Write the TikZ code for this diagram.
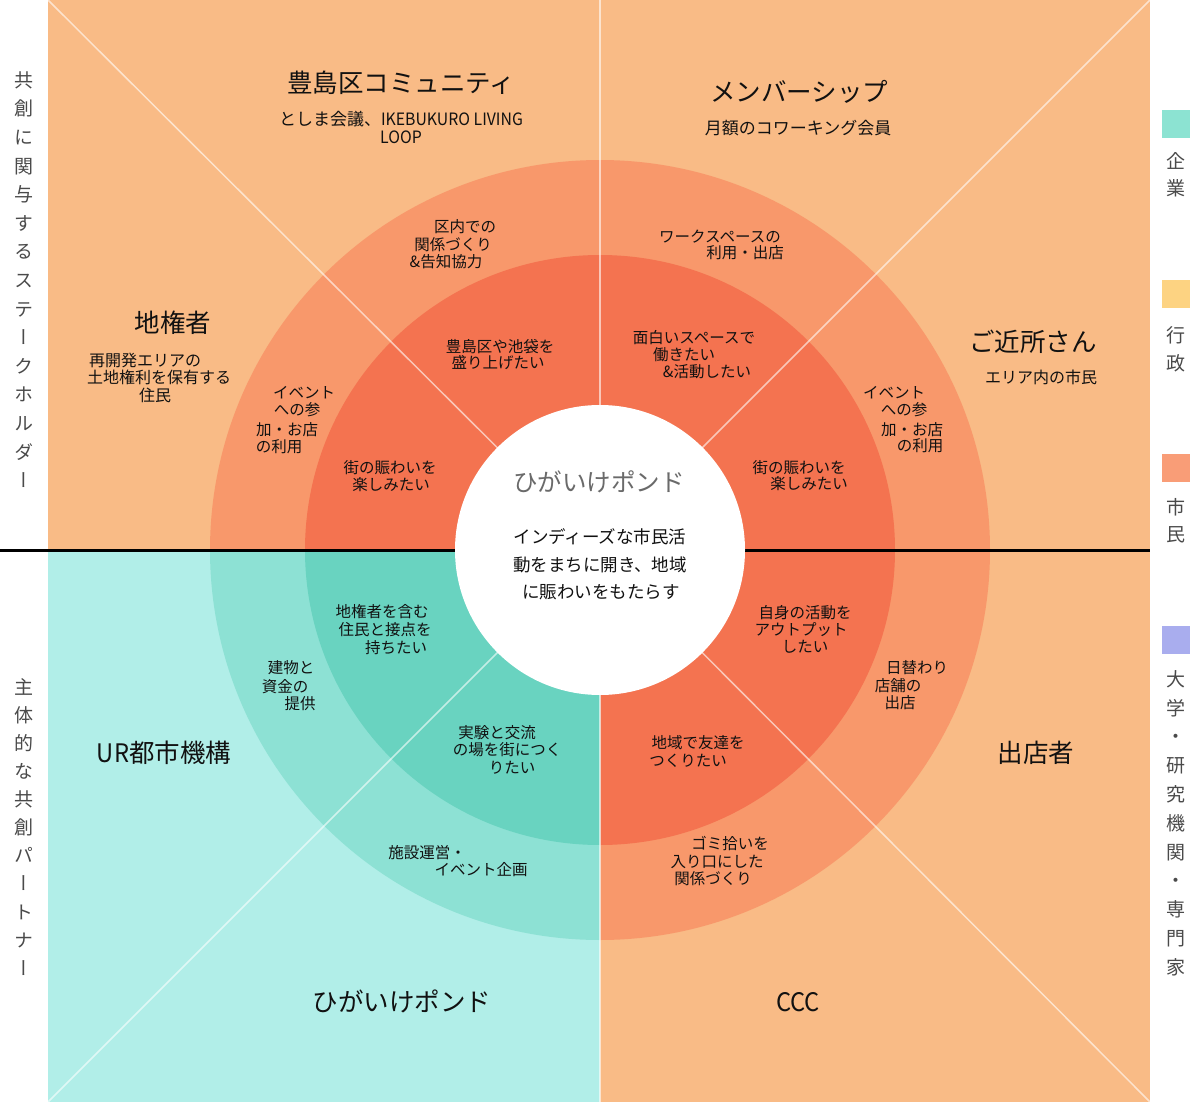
\documentclass[tikz,border=0pt]{standalone}
\usepackage{fontspec}
\setmainfont{Noto Sans CJK JP}
\newfontfamily\vertjp[RawFeature=+vert]{Noto Sans CJK JP}
\definecolor{bgO}{HTML}{F9BB86}
\definecolor{rOa}{HTML}{F8986B}
\definecolor{rOb}{HTML}{F47350}
\definecolor{bgT}{HTML}{B1EEE8}
\definecolor{rTa}{HTML}{8DE1D4}
\definecolor{rTb}{HTML}{69D3C0}
\definecolor{lgT}{HTML}{8CE3D2}
\definecolor{lgY}{HTML}{FDD382}
\definecolor{lgS}{HTML}{F99D77}
\definecolor{lgL}{HTML}{A9ADEE}
\definecolor{txt}{HTML}{111111}
\definecolor{sidetxt}{HTML}{4A4A4A}
\definecolor{ctrgray}{HTML}{6A6A6A}
\begin{document}
\begin{tikzpicture}[x=1pt,y=-1pt,
  fs/.style={font=\fontsize{#1}{#1}\selectfont, text height=0.88*#1pt, text depth=0.12*#1pt, inner sep=0pt, text=txt},
  ttl/.style={fs=25.5},
  subt/.style={fs=17},
  ring/.style={fs=15.5},
  ctrtxt/.style={fs=17.5},
  side/.style={fs=19, text=sidetxt, font=\fontsize{19}{19}\vertjp},
  sq/.style={minimum width=28pt, minimum height=28pt, inner sep=0pt},
  diag/.style={white, opacity=0.6, line width=1.5pt},
  vline/.style={white, opacity=0.6, line width=1.5pt}
]
\useasboundingbox (0,0) rectangle (1200,1102);
\coordinate (c) at (600,550);
\coordinate (tl) at (48,0);
\coordinate (tr) at (1150,0);
\coordinate (bl) at (48,1102);
\coordinate (br) at (1150,1102);
\coordinate (vt) at (600,0);
\coordinate (vb) at (600,1102);
\coordinate (hl) at (0,550);
\coordinate (hr) at (1150,550);
% backgrounds
\fill[bgO] (48,0) rectangle (1150,550);
\fill[bgO] (600,550) rectangle (1150,1102);
\fill[bgT] (48,550) rectangle (600,1102);
% rings
\begin{scope}
\clip (48,0) rectangle (1150,550);
\fill[rOa] (c) circle[radius=390pt];
\fill[rOb] (c) circle[radius=295pt];
\end{scope}
\begin{scope}
\clip (600,550) rectangle (1150,1102);
\fill[rOa] (c) circle[radius=390pt];
\fill[rOb] (c) circle[radius=295pt];
\end{scope}
\begin{scope}
\clip (48,550) rectangle (600,1102);
\fill[rTa] (c) circle[radius=390pt];
\fill[rTb] (c) circle[radius=295pt];
\end{scope}
% lines
\draw[diag] (tl) -- (c);
\draw[diag] (tr) -- (c);
\draw[diag] (bl) -- (c);
\draw[diag] (br) -- (c);
\draw[vline] (vt) -- (vb);
\draw[black, line width=3pt] (hl) -- (hr);
\node[circle, fill=white, minimum size=290pt, inner sep=0pt] (hub) at (c) {};
% legend
\node[sq, fill=lgT] (lg1) at (1176,124) {};
\node[sq, fill=lgY] (lg2) at (1176,294) {};
\node[sq, fill=lgS] (lg3) at (1176,467.5) {};
\node[sq, fill=lgL] (lg4) at (1176,639.5) {};
\foreach \ch [count=\i] in {企,業}
  \node[side] (la-\i) at (1176,{161+27.5*(\i-1)}) {\ch};
\foreach \ch [count=\i] in {行,政}
  \node[side] (lb-\i) at (1176,{335+28*(\i-1)}) {\ch};
\foreach \ch [count=\i] in {市,民}
  \node[side] (lc-\i) at (1176,{507+27*(\i-1)}) {\ch};
\foreach \ch [count=\i] in {大,学,・,研,究,機,関,・,専,門,家}
  \node[side] (ld-\i) at (1176,{679+28.8*(\i-1)}) {\ch};
% left side texts
\foreach \ch [count=\i] in {共,創,に,関,与,す,る,ス,テ,ー,ク,ホ,ル,ダ,ー}
  \node[side] (sa-\i) at (24,{80+28.6*(\i-1)}) {\ch};
\foreach \ch [count=\i] in {主,体,的,な,共,創,パ,ー,ト,ナ,ー}
  \node[side] (sb-\i) at (24,{687+28.1*(\i-1)}) {\ch};
% top-left
\node[ttl] (t1) at (401,83) {豊島区コミュニティ};
\node[subt] (t1a) at (401,119) {としま会議、\scalebox{0.93}[1]{IKEBUKURO LIVING}};
\node[subt] (t1b) at (401,137) {\scalebox{0.93}[1]{LOOP}};
\node[ring] (r1a) at (465,227) {区内での};
\node[ring] (r1b) at (453,245) {関係づくり};
\node[ring] (r1c) at (446,262) {\&告知協力};
\node[ttl] (t2) at (173,323) {地権者};
\node[fs=16] (t2a) at (145,360) {再開発エリアの};
\node[fs=16] (t2b) at (159,377) {土地権利を保有する};
\node[fs=16] (t2c) at (155,395) {住民};
\node[ring] (r2a) at (304,393) {イベント};
\node[ring] (r2b) at (297,410) {への参};
\node[ring] (r2c) at (287,430) {加・お店};
\node[ring] (r2d) at (279,447) {の利用};
\node[ring] (i1a) at (390,468) {街の賑わいを};
\node[ring] (i1b) at (391,485) {楽しみたい};
\node[ring] (i2a) at (500,347) {豊島区や池袋を};
\node[ring] (i2b) at (498,363) {盛り上げたい};
% top-right
\node[ttl] (t3) at (799,92) {メンバーシップ};
\node[subt] (t3a) at (798,128) {月額のコワーキング会員};
\node[ring] (r3a) at (720,237) {ワークスペースの};
\node[ring] (r3b) at (745,253) {利用・出店};
\node[ring] (i3a) at (694,338) {面白いスペースで};
\node[ring] (i3b) at (684,355) {働きたい};
\node[ring] (i3c) at (707,372) {\&活動したい};
\node[ttl] (t4) at (1033,342) {ご近所さん};
\node[fs=16] (t4a) at (1041,377) {エリア内の市民};
\node[ring] (r4a) at (894,393) {イベント};
\node[ring] (r4b) at (904,410) {への参};
\node[ring] (r4c) at (912,430) {加・お店};
\node[ring] (r4d) at (920,446) {の利用};
\node[ring] (i4a) at (799,468) {街の賑わいを};
\node[ring] (i4b) at (809,484) {楽しみたい};
% bottom-left
\node[ring] (i5a) at (382,612) {地権者を含む};
\node[ring] (i5b) at (385,630) {住民と接点を};
\node[ring] (i5c) at (396,648) {持ちたい};
\node[ring] (r5a) at (291,668) {建物と};
\node[ring] (r5b) at (285,687) {資金の};
\node[ring] (r5c) at (300,704) {提供};
\node[ttl] (t5) at (164,753) {\scalebox{0.93}[1]{UR}都市機構};
\node[ring] (i6a) at (497,733) {実験と交流};
\node[ring] (i6b) at (507,750) {の場を街につく};
\node[ring] (i6c) at (512,768) {りたい};
\node[ring] (r6a) at (427,853) {施設運営・};
\node[ring] (r6b) at (481,870) {イベント企画};
\node[ttl] (t6) at (402,1002) {ひがいけポンド};
% bottom-right
\node[ring] (i7a) at (805,613) {自身の活動を};
\node[ring] (i7b) at (801,630) {アウトプット};
\node[ring] (i7c) at (805,647) {したい};
\node[ring] (r7a) at (917,668) {日替わり};
\node[ring] (r7b) at (898,686) {店舗の};
\node[ring] (r7c) at (900,703) {出店};
\node[ttl] (t7) at (1036,753) {出店者};
\node[ring] (i8a) at (698,743) {地域で友達を};
\node[ring] (i8b) at (688,761) {つくりたい};
\node[ring] (r8a) at (730,844) {ゴミ拾いを};
\node[ring] (r8b) at (717,862) {入り口にした};
\node[ring] (r8c) at (713,879) {関係づくり};
\node[ttl] (t8) at (798,1002) {\scalebox{0.93}[1]{CCC}};
% center
\node[fs=24.5, text=ctrgray] (c1) at (599,482) {ひがいけポンド};
\node[ctrtxt] (c2) at (600,537) {インディーズな市民活};
\node[ctrtxt] (c3) at (600,565) {動をまちに開き、地域};
\node[ctrtxt] (c4) at (601,592) {に賑わいをもたらす};
\end{tikzpicture}
\end{document}
